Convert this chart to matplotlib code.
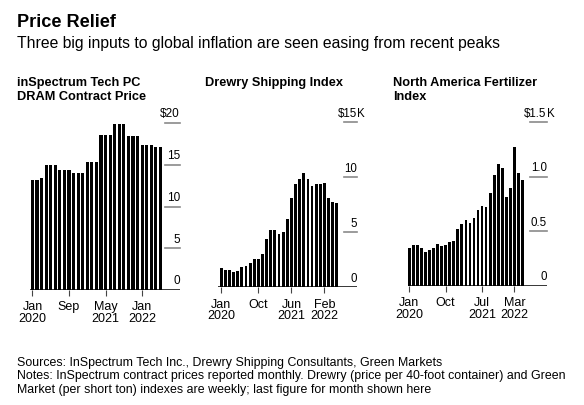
import numpy as np
import matplotlib.pyplot as plt
from matplotlib.transforms import offset_copy

plt.rcParams['font.family'] = ['Liberation Sans', 'DejaVu Sans']

W, H = 584, 406

# monthly values, Jan 2020 .. May 2022
dram = [13.2, 13.2, 13.4, 15.0, 15.0, 15.0, 14.4, 14.4, 14.4, 14.0, 14.0, 14.0,
        15.3, 15.3, 15.3, 18.6, 18.6, 18.6, 19.9, 19.9, 19.9, 18.4, 18.4, 18.4,
        17.4, 17.4, 17.4, 17.1, 17.1]
drewry = [1.72, 1.53, 1.53, 1.41, 1.50, 1.87, 1.96, 2.18, 2.61, 2.58, 3.04, 4.36,
          5.21, 5.21, 4.82, 5.03, 6.23, 8.13, 9.39, 9.88, 10.43, 9.85, 9.17, 9.36,
          9.39, 9.51, 8.16, 7.79, 7.67]
fert = [0.343, 0.373, 0.373, 0.349, 0.309, 0.327, 0.349, 0.379, 0.367, 0.373, 0.401, 0.410,
        0.520, 0.563, 0.602, 0.578, 0.624, 0.694, 0.731, 0.722, 0.850, 1.015, 1.116, 1.083,
        0.817, 0.893, 1.269, 1.034, 0.969]

titles = [["inSpectrum Tech PC", "DRAM Contract Price"],
          ["Drewry Shipping Index"],
          ["North America Fertilizer", "Index"]]
yticks = [[20, 15, 10, 5, 0], [15, 10, 5, 0], [1.5, 1.0, 0.5, 0]]
ylabels = [["$20", "15", "10", "5", "0"], ["$15", "10", "5", "0"], ["$1.5", "1.0", "0.5", "0"]]
ysuffix = ["", "K", "K"]
xticks = [[0, 8, 16, 24], [0, 9, 17, 25], [0, 9, 18, 26]]
xlabels = [["Jan\n2020", "Sep", "May\n2021", "Jan\n2022"],
           ["Jan\n2020", "Oct", "Jun\n2021", "Feb\n2022"],
           ["Jan\n2020", "Oct", "Jul\n2021", "Mar\n2022"]]
series = [dram, drewry, fert]

# layout in pixels: left, right, bottom, top ; x-limits ; title x ; tick-line width
boxes = [(30.2, 180, 291, 124), (218, 357.3, 288.3, 123.3), (407.7, 546.7, 286.7, 123.3)]
xlims = [(-0.5, 32.3), (-0.77, 32.95), (-0.4, 34.0)]
title_x = [16.7, 205, 393.3]
tick_w = [0.10, 0.094, 0.122]

fig = plt.figure(figsize=(W / 100, H / 100), dpi=100)

for i in range(3):
    l, r, b, t = boxes[i]
    ax = fig.add_axes([l / W, 1 - b / H, (r - l) / W, (b - t) / H])
    vals = series[i]
    ax.bar(np.arange(len(vals)), vals, width=0.68, color='black', linewidth=0)
    ax.set_xlim(*xlims[i])
    ax.set_ylim(0, yticks[i][0])
    for s in ax.spines.values():
        s.set_visible(False)
    ax.axhline(0, color='black', lw=1.1, zorder=3)
    ax.set_yticks([])
    ax.set_xticks(xticks[i])
    ax.set_xticklabels(xlabels[i], fontsize=9, linespacing=0.95)
    ax.tick_params(axis='x', direction='out', length=4, width=0.8, color='#444', pad=3.5)

    ytr = ax.get_yaxis_transform()
    lab_tr = offset_copy(ytr, fig=fig, y=4.8, units='points')
    for v, lab in zip(yticks[i], ylabels[i]):
        if v != 0:
            ax.plot([1 - tick_w[i], 1.0], [v, v], transform=ytr, color='#8a8a8a',
                    lw=1.2, clip_on=False)
        ax.text(1.0, v, lab, transform=lab_tr, ha='right', va='baseline',
                fontsize=8.5 if i == 0 else 8.3, clip_on=False)
    if ysuffix[i]:
        ax.text(1.0, yticks[i][0], ysuffix[i], transform=lab_tr, ha='left',
                va='baseline', fontsize=8.3, clip_on=False)

    for k, line in enumerate(titles[i]):
        fig.text(title_x[i] / W, 1 - (86 + 14 * k) / H, line, fontsize=9.2,
                 fontweight='bold', va='baseline')

fig.text(16.7 / W, 1 - 27.3 / H, "Price Relief", fontsize=13.1, fontweight='bold',
         va='baseline')
fig.text(17 / W, 1 - 48.3 / H,
         "Three big inputs to global inflation are seen easing from recent peaks",
         fontsize=11.3, va='baseline')

notes = ["Sources: InSpectrum Tech Inc., Drewry Shipping Consultants, Green Markets",
         "Notes: InSpectrum contract prices reported monthly. Drewry (price per 40-foot container) and Green",
         "Market (per short ton) indexes are weekly; last figure for month shown here"]
for k, line in enumerate(notes):
    fig.text(17 / W, 1 - (366 + 13.3 * k) / H, line, fontsize=8.9, va='baseline')

fig.savefig('out.png', dpi=100, facecolor='white')
